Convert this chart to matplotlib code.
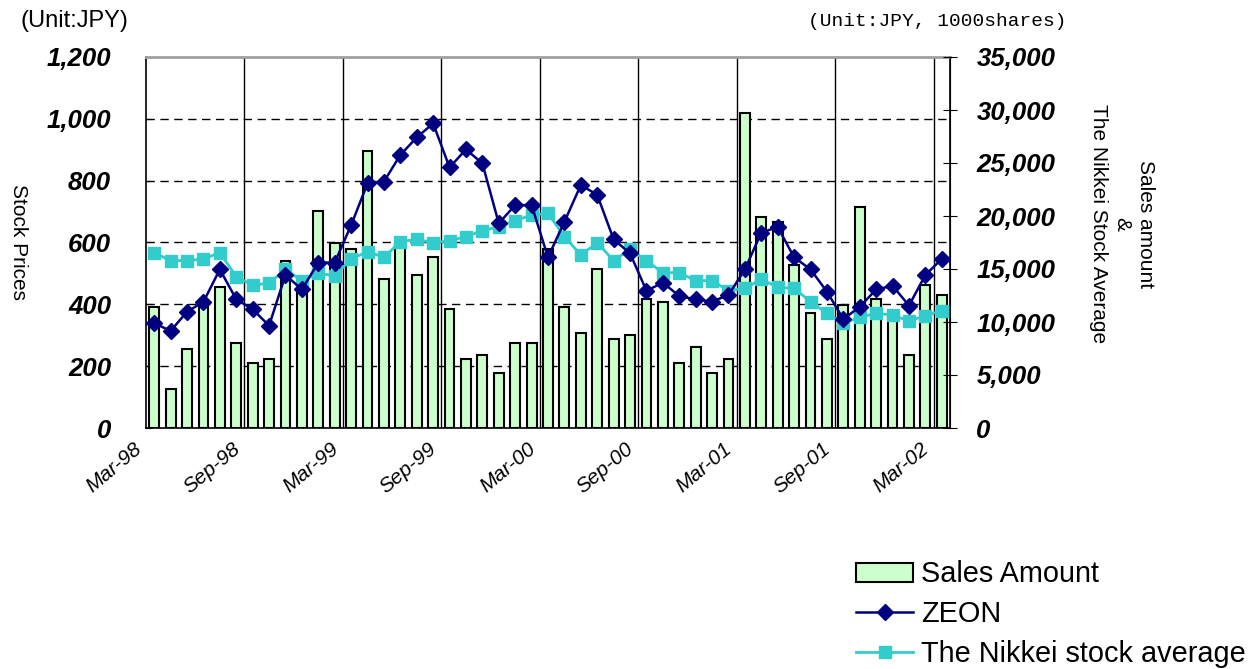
import matplotlib
matplotlib.use("Agg")
import matplotlib.pyplot as plt
import matplotlib.transforms as mtransforms
import numpy as np

plt.rcParams['font.family'] = ['Liberation Sans', 'DejaVu Sans']

# monthly, Mar-98 .. Mar-02
n_months = 49
tick_labels = ["Mar-98", "Sep-98", "Mar-99", "Sep-99", "Mar-00",
               "Sep-00", "Mar-01", "Sep-01", "Mar-02"]

# sales amount (1000 shares), right axis
sales = [11440, 3650, 7420, 11760, 13270, 7990, 6100, 6480, 15780, 13300,
         20440, 17480, 16860, 26100, 14030, 17400, 14400, 16100, 11200, 6480,
         6890, 5160, 7990, 7990, 16860, 11390, 8930, 14970, 8370, 8770,
         12140, 11920, 6100, 7610, 5160, 6480, 29690, 19900, 19400, 15350,
         10820, 8370, 11580, 20820, 12140, 11000, 6890, 13460, 12520]

# ZEON stock price (JPY), left axis
zeon = [339, 314, 376, 408, 513, 416, 384, 331, 495, 448,
        535, 535, 656, 791, 797, 883, 940, 985, 843, 901,
        856, 662, 721, 721, 552, 667, 786, 754, 610, 565,
        444, 470, 427, 416, 409, 430, 513, 632, 650, 552,
        513, 441, 352, 392, 448, 460, 396, 495, 547]

# Nikkei stock average, right axis
nikkei = [16540, 15790, 15790, 15940, 16540, 14270, 13490, 13650, 14970, 13900,
          14590, 14370, 15940, 16640, 16100, 17580, 17800, 17480, 17670, 18050,
          18610, 18990, 19560, 20090, 20250, 18050, 16320, 17480, 15790, 16860,
          15790, 14650, 14650, 13900, 13900, 12950, 13180, 14030, 13270, 13180,
          11920, 10820, 9880, 10440, 10820, 10660, 10090, 10600, 11070]

x = np.arange(n_months) + 0.5

fig = plt.figure(figsize=(12.51, 6.69), dpi=100)
ax = fig.add_axes([146 / 1251, 1 - 428 / 669, 804 / 1251, 371 / 669])
ax2 = ax.twinx()   # bars + nikkei
ax3 = ax.twinx()   # zeon on top

# grid on the bottom axes
for v in range(200, 1200, 200):
    ax.axhline(v, color='black', lw=1, dashes=(6, 4))
for t in range(6, 49, 6):
    ax.axvline(t, color='black', lw=1)

ax.set_xlim(0, n_months)
ax.set_ylim(0, 1200)
ax.set_yticks(range(0, 1201, 200))
ax.set_yticklabels([f"{v:,}" for v in range(0, 1201, 200)],
                   fontsize=18.5, fontweight='bold', fontstyle='italic')
ax.tick_params(axis='y', direction='in', length=4, pad=25)
ax.set_xticks(range(0, 49, 6))
ax.set_xticklabels(tick_labels, rotation=40, ha='right', va='center',
                   rotation_mode='anchor', fontsize=15, fontstyle='italic')
ax.tick_params(axis='x', length=0, pad=13)
shift = mtransforms.ScaledTranslation(-5 / 72, 0, fig.dpi_scale_trans)
for lab in ax.get_xticklabels():
    lab.set_transform(lab.get_transform() + shift)
ax.spines['top'].set_color('#a0a0a0')
ax.spines['top'].set_linewidth(2)
for s in ['left', 'bottom', 'right']:
    ax.spines[s].set_color('black')
    ax.spines[s].set_linewidth(1.2)

bars = ax2.bar(x, sales, width=0.6, color='#ccffcc', edgecolor='black',
               linewidth=1.5, label='Sales Amount')
nk, = ax2.plot(x, nikkei, color='#33cccc', lw=2, marker='s', ms=9,
               label='The Nikkei stock average')
ax2.set_ylim(0, 35000)
ax2.set_yticks(range(0, 35001, 5000))
ax2.set_yticklabels([f"{v:,}" for v in range(0, 35001, 5000)],
                    fontsize=18.5, fontweight='bold', fontstyle='italic')
ax2.tick_params(axis='y', direction='inout', length=10, pad=14)
ax2.spines['top'].set_visible(False)
ax2.spines['left'].set_visible(False)
ax2.spines['bottom'].set_visible(False)

zl, = ax3.plot(x, zeon, color='#000080', lw=1.8, marker='D', ms=8, label='ZEON')
ax3.set_ylim(0, 1200)
ax3.set_yticks([])
for s in ax3.spines.values():
    s.set_visible(False)

fig.text(21 / 1251, 1 - 21 / 669, "(Unit:JPY)", fontsize=17, va='center')
fig.text(1067 / 1251, 1 - 21 / 669, "(Unit:JPY, 1000shares)", fontsize=14,
         va='center', ha='right', family='Liberation Mono')
fig.text(18 / 1251, 1 - 242 / 669, "Stock Prices", rotation=270, fontsize=15,
         ha='center', va='center')
fig.text(1122 / 1251, 1 - 224 / 669, "Sales amount\n&\nThe Nikkei Stock Average",
         rotation=270, fontsize=15, ha='center', va='center',
         multialignment='center', linespacing=1.3)

fig.legend([bars, zl, nk], ['Sales Amount', 'ZEON', 'The Nikkei stock average'],
           loc='upper left', bbox_to_anchor=(842 / 1251, 1 - 546 / 669),
           frameon=False, fontsize=20.8, handlelength=1.95, handleheight=0.62,
           handletextpad=0.3, labelspacing=0.4, borderpad=0)

fig.savefig("out.png", dpi=100)
